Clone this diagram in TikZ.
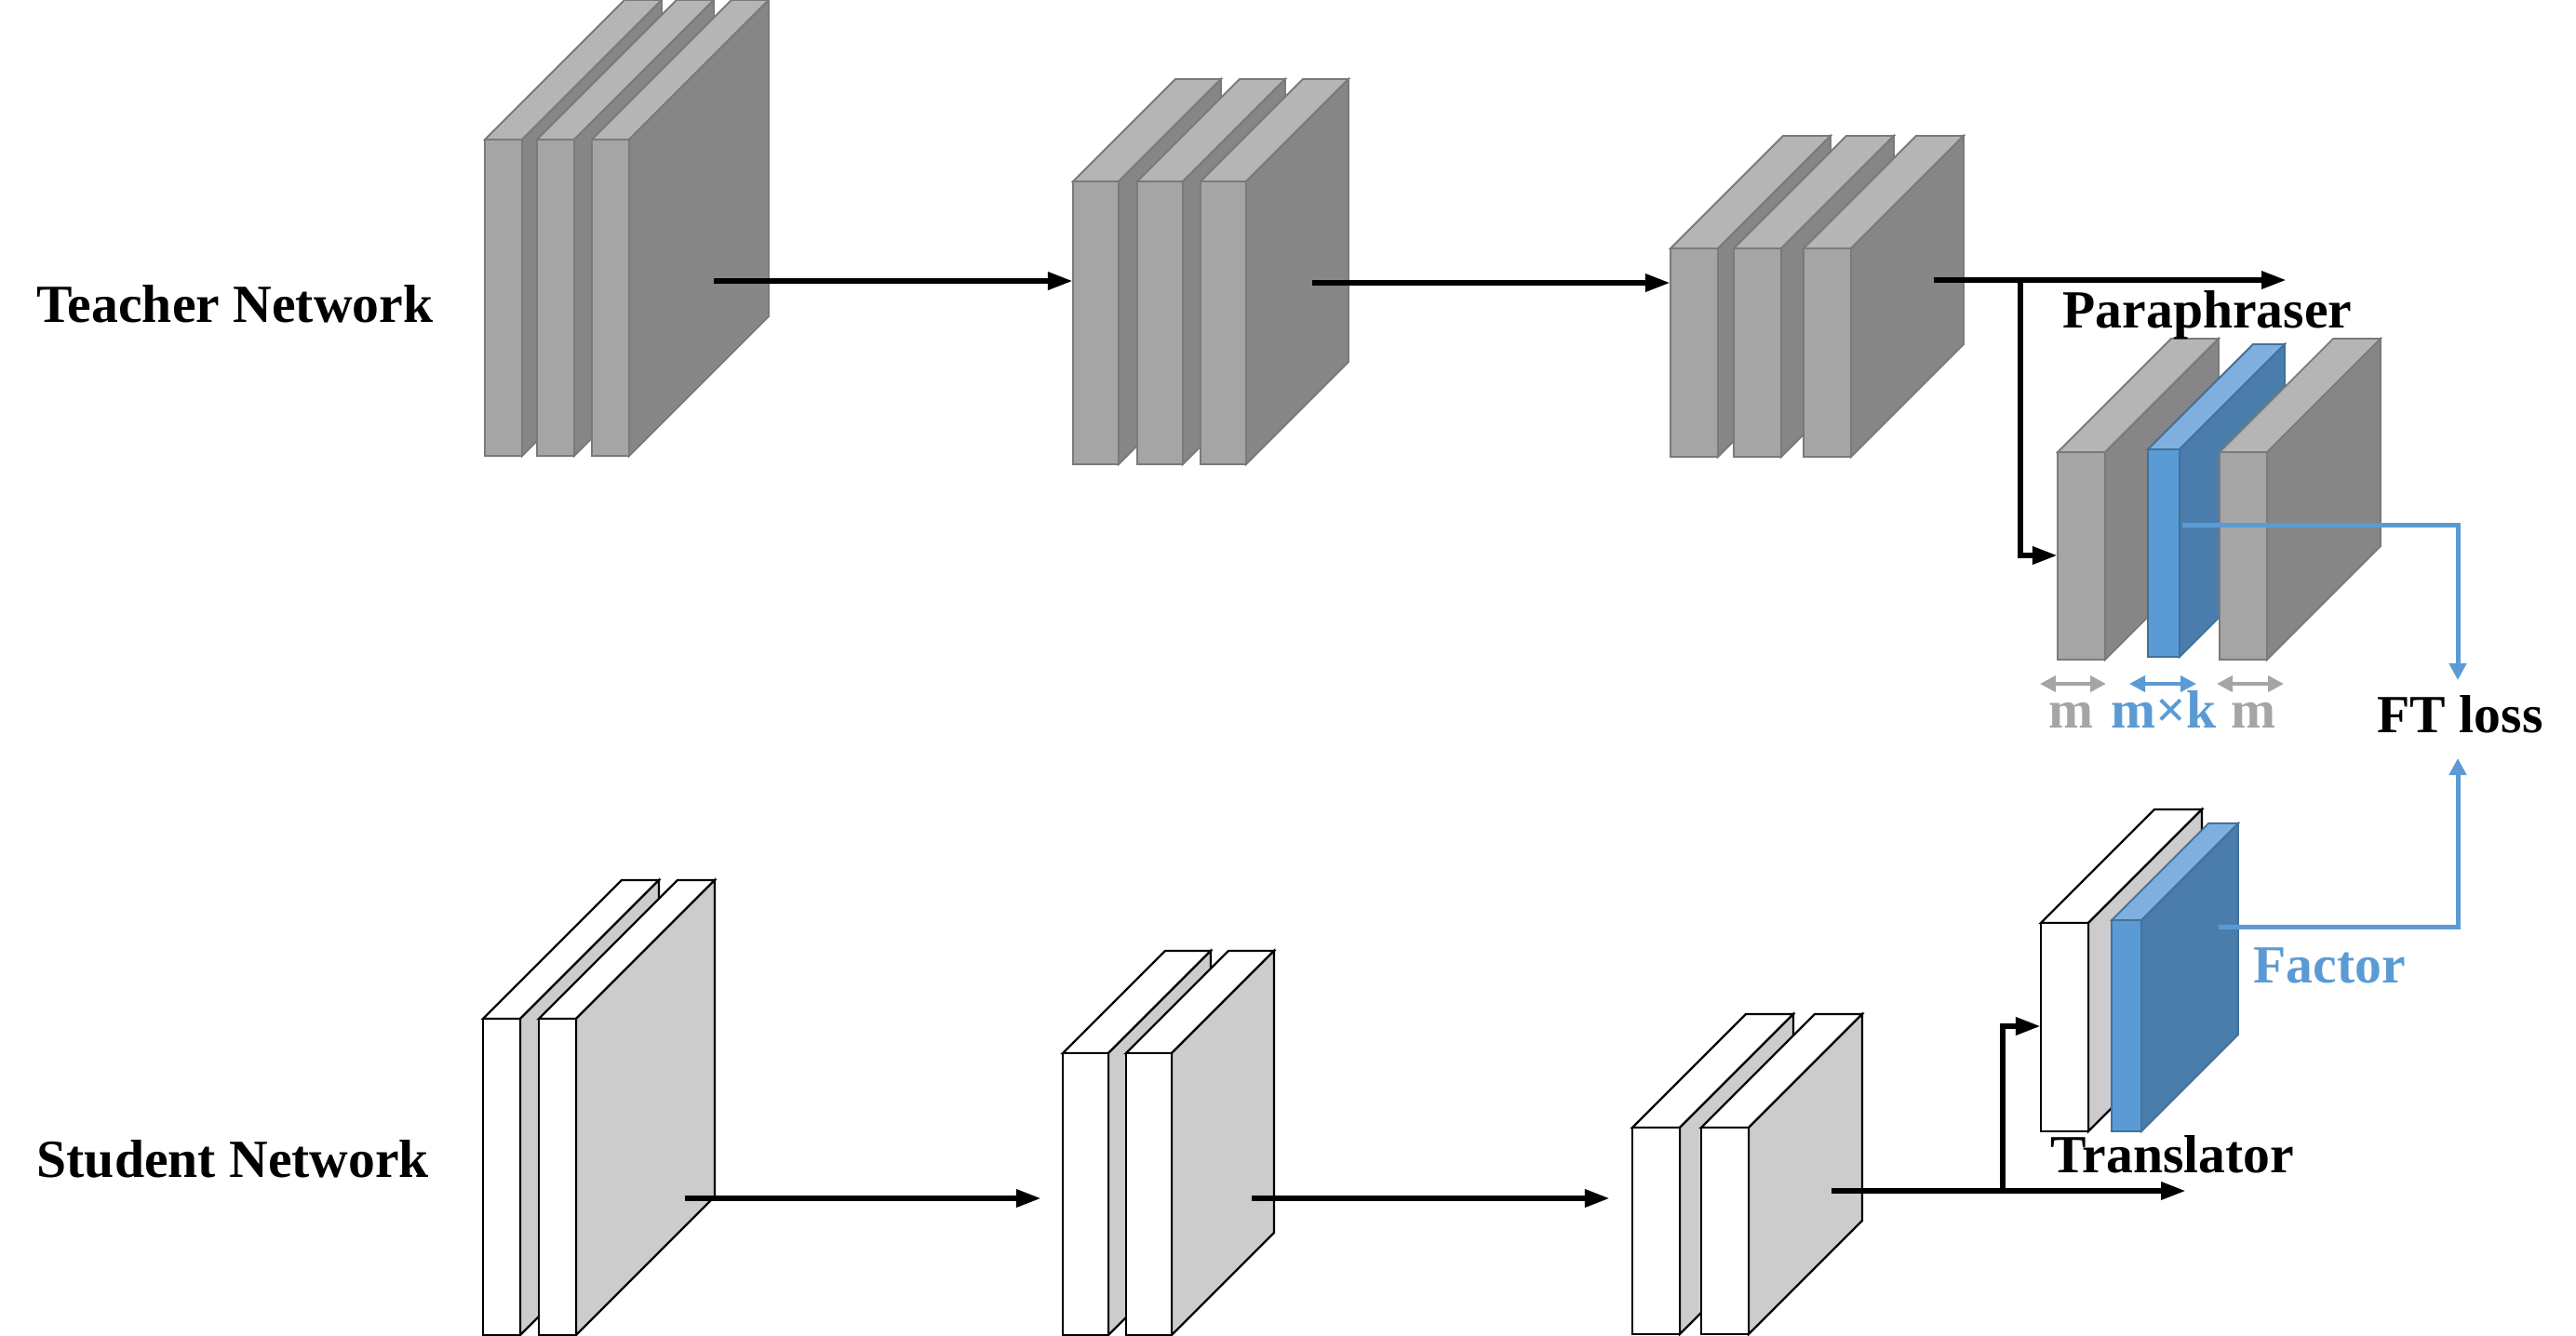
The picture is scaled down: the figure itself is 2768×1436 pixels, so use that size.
\documentclass[tikz,border=0pt]{standalone}
\usepackage{fontspec}
\setmainfont{Liberation Serif}
\usetikzlibrary{arrows.meta}
\definecolor{tfront}{HTML}{A5A5A5}
\definecolor{ttop}{HTML}{B5B5B5}
\definecolor{tside}{HTML}{868686}
\definecolor{tline}{HTML}{7A7A7A}
\definecolor{sside}{HTML}{CCCCCC}
\definecolor{bfront}{HTML}{5B9BD5}
\definecolor{btop}{HTML}{7EAFDE}
\definecolor{bside}{HTML}{4A7DAC}
\definecolor{bline}{HTML}{41719C}
\definecolor{gtxt}{HTML}{A5A5A5}
\newcommand{\slab}[9]{%
  \filldraw[draw=#9,fill=#7] (#1,#2) -- ++(#5,-#5) -- ++(#3,0) -- ++(-#5,#5) -- cycle;
  \filldraw[draw=#9,fill=#8] ({#1+#3},#2) -- ++(#5,-#5) -- ++(0,#4) -- ++(-#5,#5) -- cycle;
  \filldraw[draw=#9,fill=#6] (#1,#2) rectangle ++(#3,#4);
}
\tikzset{
  lbl/.style={inner sep=0pt, font=\fontsize{16.4pt}{19pt}\selectfont\bfseries, anchor=base west},
  flow/.style={line width=0.062cm, -{Triangle[length=0.27cm,width=0.18cm]}},
  bflow/.style={line width=0.05cm, draw=bfront, -{Triangle[length=0.18cm,width=0.18cm]}},
  dim/.style={line width=0.04cm, {Triangle[length=0.17cm,width=0.17cm]}-{Triangle[length=0.17cm,width=0.17cm]}},
}
\begin{document}
\begin{tikzpicture}[x=0.01cm,y=-0.01cm, line join=miter]
\useasboundingbox (0,0) rectangle (2768,1436);
% ---------- teacher ----------
\begin{scope}[line width=0.018cm]
\slab{521}{150}{40}{340}{150}{tfront}{ttop}{tside}{tline}
\slab{577}{150}{40}{340}{150}{tfront}{ttop}{tside}{tline}
\slab{636}{150}{40}{340}{150}{tfront}{ttop}{tside}{tline}
\slab{1153}{195}{49}{304}{110}{tfront}{ttop}{tside}{tline}
\slab{1222}{195}{49}{304}{110}{tfront}{ttop}{tside}{tline}
\slab{1290}{195}{49}{304}{110}{tfront}{ttop}{tside}{tline}
\slab{1795}{267}{51}{224}{121}{tfront}{ttop}{tside}{tline}
\slab{1863}{267}{51}{224}{121}{tfront}{ttop}{tside}{tline}
\slab{1938}{267}{51}{224}{121}{tfront}{ttop}{tside}{tline}
% paraphraser
\slab{2211}{486}{51}{223}{122}{tfront}{ttop}{tside}{tline}
\slab{2308}{483}{34}{223}{113}{bfront}{btop}{bside}{bline}
\slab{2385}{486}{51}{223}{122}{tfront}{ttop}{tside}{tline}
\end{scope}
% ---------- student ----------
\begin{scope}[line width=0.022cm]
\slab{519}{1095}{40}{340}{149}{white}{white}{sside}{black}
\slab{579}{1095}{40}{340}{149}{white}{white}{sside}{black}
\slab{1142}{1132}{49}{303}{110}{white}{white}{sside}{black}
\slab{1210}{1132}{49}{303}{110}{white}{white}{sside}{black}
\slab{1754}{1212}{51}{222}{122}{white}{white}{sside}{black}
\slab{1828}{1212}{51}{222}{122}{white}{white}{sside}{black}
% translator
\slab{2193}{992}{51}{224}{122}{white}{white}{sside}{black}
\end{scope}
\begin{scope}[line width=0.018cm]
\slab{2269}{989}{32}{227}{104}{bfront}{btop}{bside}{bline}
\end{scope}
% ---------- coordinates ----------
\coordinate (t1o) at (767,302);
\coordinate (t2i) at (1153,302);
\coordinate (t2o) at (1410,304);
\coordinate (t3i) at (1795,304);
\coordinate (t3o) at (2078,301);
\coordinate (tend) at (2457,301);
\coordinate (tbr) at (2171,301);
\coordinate (pin) at (2211,597);
\coordinate (s1o) at (736,1288);
\coordinate (s2i) at (1119,1288);
\coordinate (s2o) at (1345,1288);
\coordinate (s3i) at (1730,1288);
\coordinate (s3o) at (1968,1280);
\coordinate (send) at (2349,1280);
\coordinate (sbr) at (2152,1280);
\coordinate (trin) at (2193,1103);
\coordinate (pfac) at (2345,564);
\coordinate (tfac) at (2384,996);
\coordinate (lossx) at (2641,564);
\coordinate (lossx2) at (2641,996);
\coordinate (lossin) at (2641,731);
\coordinate (lossin2) at (2641,815);
% ---------- connectors ----------
\draw[flow] (t1o) -- (t2i);
\draw[flow] (t2o) -- (t3i);
\draw[flow] (t3o) -- (tend);
\draw[flow] (tbr) |- (pin);
\draw[flow] (s1o) -- (s2i);
\draw[flow] (s2o) -- (s3i);
\draw[flow] (s3o) -- (send);
\draw[flow] (sbr) |- (trin);
\draw[bflow] (pfac) -- (lossx) -- (lossin);
\draw[bflow] (tfac) -- (lossx2) -- (lossin2);
% dimension arrows
\coordinate (d1a) at (2192,735); \coordinate (d1b) at (2263,735);
\coordinate (d2a) at (2288,735); \coordinate (d2b) at (2360,735);
\coordinate (d3a) at (2382,735); \coordinate (d3b) at (2454,735);
\draw[dim, draw=gtxt, fill=gtxt] (d1a) -- (d1b);
\draw[dim, draw=bfront, fill=bfront] (d2a) -- (d2b);
\draw[dim, draw=gtxt, fill=gtxt] (d3a) -- (d3b);
% ---------- labels ----------
\node[lbl] (teacher) at (39,346) {Teacher Network};
\node[lbl] (student) at (39,1265) {Student Network};
\node[lbl] (para) at (2216,352) {Paraphraser};
\node[lbl] (trans) at (2203,1260) {Translator};
\node[lbl, text=bfront] (factor) at (2421,1056) {Factor};
\node[lbl] (loss) at (2554,787) {FT loss};
\node[lbl, anchor=base, text=gtxt] (m1) at (2226,782) {m};
\node[lbl, anchor=base, text=bfront] (mk) at (2325,782) {m×k};
\node[lbl, anchor=base, text=gtxt] (m2) at (2422,782) {m};
\end{tikzpicture}
\end{document}
